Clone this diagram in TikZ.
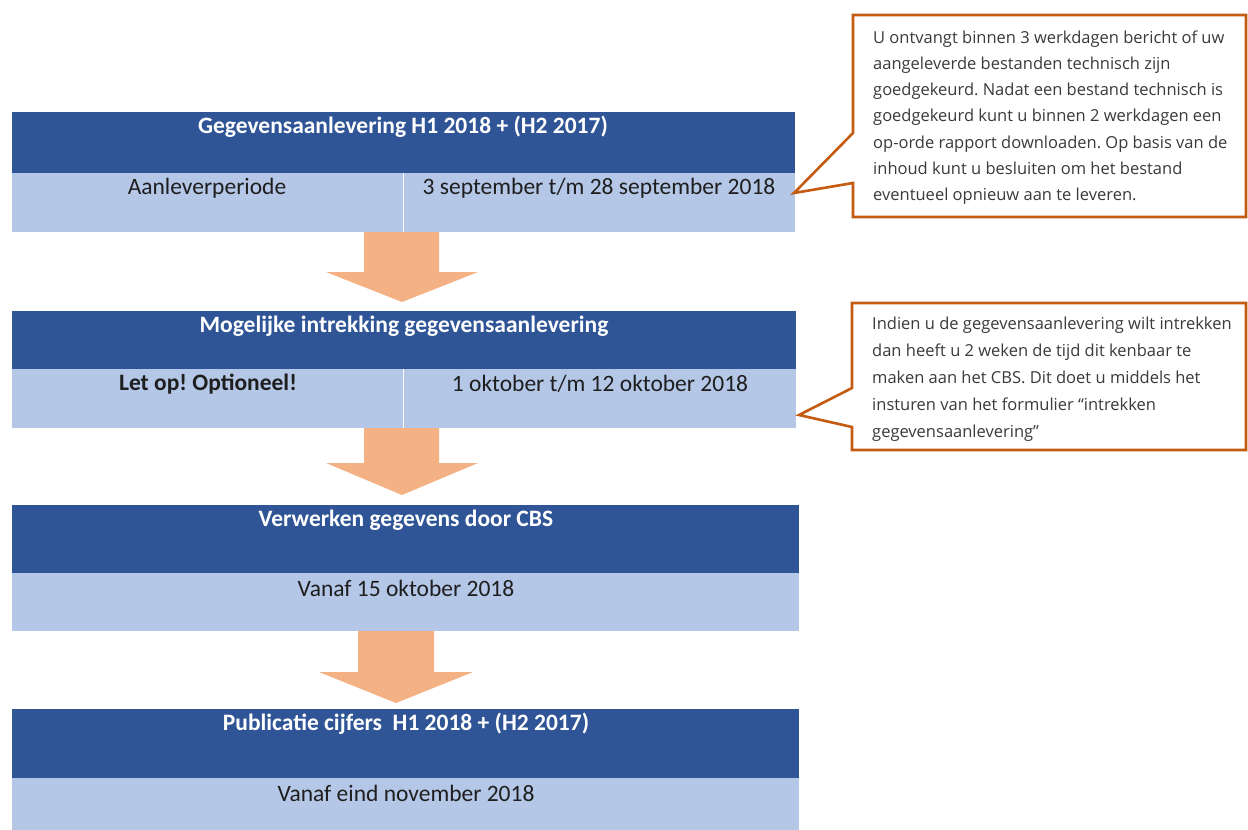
\documentclass[tikz,border=0pt]{standalone}
\usepackage{fontspec}
\setmainfont{Carlito}
\newfontfamily\calloutfont{Open Sans}
\definecolor{darkband}{HTML}{2F5597}
\definecolor{lightband}{HTML}{B4C7E7}
\definecolor{arrowfill}{HTML}{F4B183}
\definecolor{calloutline}{HTML}{C55A11}
\definecolor{bodytext}{HTML}{1E1E1E}
\definecolor{callouttext}{HTML}{3A3A3A}
\frenchspacing
\begin{document}
\begin{tikzpicture}[x=1pt,y=-1pt,
  darkbox/.style={fill=darkband, draw=none, anchor=north west, inner sep=0pt, outer sep=0pt},
  lightbox/.style={fill=lightband, draw=none, anchor=north west, inner sep=0pt, outer sep=0pt},
  titletext/.style={text=white, font=\fontsize{23.5}{28}\selectfont\bfseries, inner sep=0pt},
  celltext/.style={text=bodytext, font=\fontsize{23.5}{28}\selectfont, inner sep=0pt},
  blockarrow/.style={fill=arrowfill, draw=none},
  callout/.style={draw=calloutline, line width=2.6pt, fill=white, line join=miter},
  callouttextstyle/.style={text=callouttext, align=left, anchor=north west, inner sep=0pt}
]
\useasboundingbox (0,0) rectangle (1248,830);
\fill[white] (0,0) rectangle (1248,830);

% ---------- Box 1 ----------
\node[darkbox, minimum width=783pt, minimum height=61pt] (b1dark) at (12,112) {};
\node[lightbox, minimum width=783pt, minimum height=59pt] (b1light) at (12,173) {};
\draw[white, line width=1pt] (b1light.north -| 403,0) -- (b1light.south -| 403,0);
\node[titletext] (b1title) at (403,127) {Gegevensaanlevering H1 2018 + (H2 2017)};
\node[celltext] (b1left) at (207,188) {Aanleverperiode};
\node[celltext] (b1right) at (599,188) {3 september t/m 28 september 2018};

% ---------- Box 2 ----------
\node[darkbox, minimum width=784pt, minimum height=58pt] (b2dark) at (12,311) {};
\node[lightbox, minimum width=784pt, minimum height=59pt] (b2light) at (12,369) {};
\draw[white, line width=1pt] (b2light.north -| 403,0) -- (b2light.south -| 403,0);
\node[titletext] (b2title) at (404,326) {Mogelijke intrekking gegevensaanlevering};
\node[celltext, font=\fontsize{23.5}{28}\selectfont\bfseries] (b2left) at (208,384) {Let op! Optioneel!};
\node[celltext] (b2right) at (600,384) {1 oktober t/m 12 oktober 2018};

% ---------- Box 3 ----------
\node[darkbox, minimum width=787pt, minimum height=68pt] (b3dark) at (12,505) {};
\node[lightbox, minimum width=787pt, minimum height=58pt] (b3light) at (12,573) {};
\node[titletext] (b3title) at (406,520) {Verwerken gegevens door CBS};
\node[celltext] (b3text) at (406,588) {Vanaf 15 oktober 2018};

% ---------- Box 4 ----------
\node[darkbox, minimum width=787pt, minimum height=69pt] (b4dark) at (12,709) {};
\node[lightbox, minimum width=787pt, minimum height=52pt] (b4light) at (12,778) {};
\node[titletext] (b4title) at (406,724) {Publicatie cijfers\ \ H1 2018 + (H2 2017)};
\node[celltext] (b4text) at (406,793) {Vanaf eind november 2018};

% ---------- Block arrows ----------
\fill[blockarrow] (364,232) -- (439,232) -- (439,272) -- (478,272) -- (402,302) -- (326,272) -- (364,272) -- cycle;
\fill[blockarrow] (364,428) -- (439,428) -- (439,463) -- (478,463) -- (402,495) -- (326,463) -- (364,463) -- cycle;
\fill[blockarrow] (358,631) -- (434,631) -- (434,672) -- (473,672) -- (396,703) -- (319,672) -- (358,672) -- cycle;

% ---------- Callout 1 ----------
\draw[callout] (853,15) -- (1246,15) -- (1246,217) -- (853,217) -- (853,183) -- (794,193) -- (853,133) -- cycle;
\node[callouttextstyle, font=\calloutfont\fontsize{16.5}{26.2}\selectfont] (c1text) at (873,30.5) {U ontvangt binnen 3 werkdagen bericht of uw\\
aangeleverde bestanden technisch zijn\\
goedgekeurd. Nadat een bestand technisch is\\
goedgekeurd kunt u binnen 2 werkdagen een\\
op-orde rapport downloaden. Op basis van de\\
inhoud kunt u besluiten om het bestand\\
eventueel opnieuw aan te leveren.};

% ---------- Callout 2 ----------
\draw[callout] (852,303) -- (1246,303) -- (1246,450) -- (852,450) -- (852,427) -- (799,415) -- (852,388) -- cycle;
\node[callouttextstyle, font=\calloutfont\fontsize{16.5}{27}\selectfont] (c2text) at (872,316.5) {Indien u de gegevensaanlevering wilt intrekken\\
dan heeft u 2 weken de tijd dit kenbaar te\\
maken aan het CBS. Dit doet u middels het\\
insturen van het formulier \textquotedblleft intrekken\\
gegevensaanlevering\textquotedblright};
\end{tikzpicture}
\end{document}
